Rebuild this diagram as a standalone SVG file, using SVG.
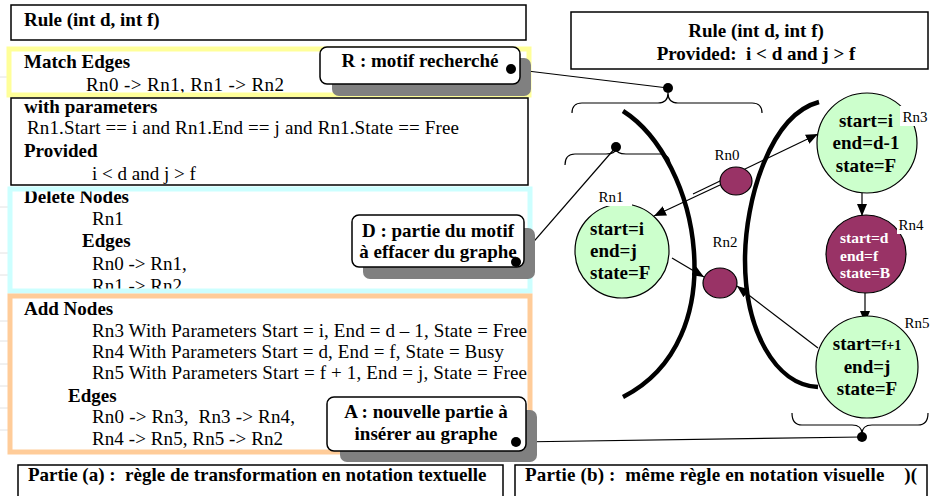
<svg xmlns="http://www.w3.org/2000/svg" width="933" height="496" viewBox="0 0 933 496">
<style>
text{font-family:"Liberation Serif","Times New Roman",serif;fill:#000;white-space:pre}
.r{font-size:19px}
.b{font-size:19px;font-weight:bold}
.lbl{font-size:15px}
.box{fill:#fff;stroke:#000;stroke-width:1.5}
.frame{fill:none;stroke-width:5}
.sh{fill:#808080}
.call{fill:#fff;stroke:#000;stroke-width:1.5}
.dot{fill:#000}
.thin{fill:none;stroke:#000;stroke-width:1.2}
.thick{fill:none;stroke:#000;stroke-width:4.5;stroke-linecap:butt}
.green{fill:#ccffcc;stroke:#000;stroke-width:1.2}
.purple{fill:#993366;stroke:#000;stroke-width:1.2}
.wt{fill:#fff;font-size:15.5px;font-weight:bold}
.grid{stroke:#e2e2e2;stroke-width:1}
</style>
<defs>
<marker id="ah" viewBox="0 0 12 10" refX="12" refY="5" markerWidth="12" markerHeight="10" markerUnits="userSpaceOnUse" orient="auto">
<path d="M0,0 L12,5 L0,10 Z" fill="#000"/>
</marker>
</defs>
<rect width="933" height="496" fill="#fff"/>

<g id="grid">
<line class="grid" x1="0" y1="77" x2="20" y2="77"/>
<line class="grid" x1="0" y1="207" x2="20" y2="207"/>
<line class="grid" x1="0" y1="253" x2="20" y2="253"/>
<line class="grid" x1="0" y1="275" x2="20" y2="275"/>
<line class="grid" x1="0" y1="321" x2="20" y2="321"/>
<line class="grid" x1="0" y1="341" x2="20" y2="341"/>
<line class="grid" x1="0" y1="364" x2="20" y2="364"/>
<line class="grid" x1="0" y1="386" x2="20" y2="386"/>
<line class="grid" x1="0" y1="408" x2="20" y2="408"/>
<line class="grid" x1="0" y1="430" x2="20" y2="430"/>
</g>

<g id="rule-text">
<rect class="box" x="11" y="5" width="515" height="35"/>
<text class="b" x="24" y="26">Rule (int d, int f)</text>
</g>

<g id="match-edges">
<rect x="9" y="49" width="520" height="46" fill="#fff"/>
<text class="b" x="24" y="68">Match Edges</text>
<text class="r" x="86" y="91" textLength="198">Rn0 -&gt; Rn1, Rn1 -&gt; Rn2</text>
<rect class="frame" x="9" y="49" width="520" height="46" stroke="#ffff99"/>
</g>

<g id="with-parameters">
<rect class="box" x="11" y="98" width="517" height="87"/>
<text class="b" x="24" y="113">with parameters</text>
<text class="r" x="27" y="134" textLength="432">Rn1.Start == i and Rn1.End == j and Rn1.State == Free</text>
<text class="b" x="24" y="157">Provided</text>
<text class="r" x="92" y="180">i &lt; d and j &gt; f</text>
</g>

<g id="delete-nodes">
<rect x="10" y="189" width="520" height="102" fill="#fff"/>
<text class="b" x="24" y="203">Delete Nodes</text>
<text class="r" x="92" y="225">Rn1</text>
<text class="b" x="82" y="247">Edges</text>
<text class="r" x="92" y="270">Rn0 -&gt; Rn1,</text>
<text class="r" x="92" y="292">Rn1 -&gt; Rn2</text>
<rect class="frame" x="10" y="189" width="520" height="102" stroke="#ccffff"/>
</g>

<g id="add-nodes">
<rect x="10" y="296" width="520" height="156" fill="#fff"/>
<text class="b" x="24" y="315">Add Nodes</text>
<text class="r" x="92" y="337" textLength="435">Rn3 With Parameters Start = i, End = d – 1, State = Free</text>
<text class="r" x="92" y="358" textLength="412">Rn4 With Parameters Start = d, End = f, State = Busy</text>
<text class="r" x="92" y="379" textLength="435">Rn5 With Parameters Start = f + 1, End = j, State = Free</text>
<text class="b" x="68" y="402">Edges</text>
<text class="r" x="92" y="423" textLength="203">Rn0 -&gt; Rn3,  Rn3 -&gt; Rn4,</text>
<text class="r" x="92" y="445" textLength="191">Rn4 -&gt; Rn5, Rn5 -&gt; Rn2</text>
<rect class="frame" x="10" y="296" width="520" height="156" stroke="#ffcc99"/>
</g>

<g id="caption-a">
<rect class="box" x="18" y="465" width="485" height="40"/>
<text class="b" x="28" y="481">Partie (a) :  règle de transformation en notation textuelle</text>
</g>

<g id="caption-b">
<rect class="box" x="515" y="465" width="412" height="40"/>
<text class="b" x="525" y="481" textLength="392">Partie (b) :  même règle en notation visuelle    )(</text>
</g>

<g id="rule-visual">
<rect class="box" x="571" y="12" width="357" height="57"/>
<text class="b" x="756" y="37" text-anchor="middle">Rule (int d, int f)</text>
<text class="b" x="756" y="60" text-anchor="middle">Provided:  i &lt; d and j &gt; f</text>
</g>

<g id="connectors">
<line class="thin" x1="511" y1="69" x2="668" y2="88"/>
<line class="thin" x1="516" y1="262" x2="616" y2="147"/>
<line class="thin" x1="516" y1="442" x2="862" y2="437"/>
<path class="thin" d="M572,113 Q572,103 582,103 L658,103 Q668,103 668,93 Q668,103 678,103 L752,103 Q762,103 762,113"/>
<path class="thin" d="M565,165 Q565,154 575,154 L606,154 Q616,154 616,148 Q616,154 626,154 L660,154 Q670,154 670,165"/>
<path class="thin" d="M792,413 Q792,425 802,425 L852,425 Q862,425 862,434 Q862,425 872,425 L918,425 Q928,425 928,413"/>
<path class="thick" d="M623,111 C700,160 735,340 623,397"/>
<path class="thick" d="M819,102 C770,115 745,200 745,260 C745,330 775,385 818,387"/>
<line class="thin" x1="693" y1="194" x2="818" y2="134" marker-end="url(#ah)"/>
<line class="thin" x1="720" y1="185" x2="654" y2="216" marker-end="url(#ah)"/>
<line class="thin" x1="672" y1="258" x2="704" y2="277" marker-end="url(#ah)"/>
<line class="thin" x1="818" y1="348" x2="737" y2="286" marker-end="url(#ah)"/>
<line class="thin" x1="862" y1="183" x2="862" y2="216" marker-end="url(#ah)"/>
<line class="thin" x1="865" y1="293" x2="865" y2="323" marker-end="url(#ah)"/>
</g>

<g id="callout-R">
<rect class="sh" x="332" y="58" width="199" height="38" rx="7"/>
<rect class="call" x="320" y="47" width="200" height="37" rx="7"/>
<text class="b" x="420" y="67" text-anchor="middle">R : motif recherché</text>
<circle class="dot" cx="511" cy="69" r="5"/>
</g>

<g id="callout-D">
<rect class="sh" x="363" y="228" width="172" height="51" rx="7"/>
<rect class="call" x="352" y="215" width="172" height="52" rx="7"/>
<text class="b" x="438" y="237" text-anchor="middle">D : partie du motif</text>
<text class="b" x="438" y="258" text-anchor="middle">à effacer du graphe</text>
<circle class="dot" cx="516" cy="262" r="5"/>
</g>

<g id="callout-A">
<rect class="sh" x="340" y="410" width="197" height="52" rx="7"/>
<rect class="call" x="327" y="397" width="199" height="54" rx="7"/>
<text class="b" x="426" y="418" text-anchor="middle">A : nouvelle partie à</text>
<text class="b" x="426" y="440" text-anchor="middle">insérer au graphe</text>
<circle class="dot" cx="516" cy="442" r="5"/>
</g>

<g id="brace-dots">
<circle class="dot" cx="668" cy="88" r="5"/>
<circle class="dot" cx="616" cy="147" r="5"/>
<circle class="dot" cx="862" cy="437" r="5"/>
</g>

<g id="Rn0">
<ellipse class="purple" cx="736" cy="181" rx="16" ry="14"/>
<text class="lbl" x="727" y="160" text-anchor="middle">Rn0</text>
</g>

<g id="Rn2">
<ellipse class="purple" cx="720" cy="283" rx="17" ry="15"/>
<text class="lbl" x="725" y="247" text-anchor="middle">Rn2</text>
</g>

<g id="Rn1">
<circle class="green" cx="622" cy="251" r="47"/>
<rect x="594" y="186" width="38" height="20" fill="#fff"/>
<text class="lbl" x="611" y="202" text-anchor="middle">Rn1</text>
<text class="b" x="590" y="235">start=i</text>
<text class="b" x="590" y="257">end=j</text>
<text class="b" x="590" y="279">state=F</text>
</g>

<g id="Rn3">
<circle class="green" cx="867" cy="143" r="50"/>
<rect x="900" y="106" width="28" height="20" fill="#fff"/>
<text class="lbl" x="915" y="122" text-anchor="middle">Rn3</text>
<text class="b" x="866" y="127" text-anchor="middle">start=i</text>
<text class="b" x="866" y="149" text-anchor="middle">end=d-1</text>
<text class="b" x="866" y="172" text-anchor="middle">state=F</text>
</g>

<g id="Rn4">
<ellipse class="purple" cx="866" cy="254" rx="40" ry="39"/>
<rect x="897" y="214" width="28" height="20" fill="#fff"/>
<text class="lbl" x="911" y="230" text-anchor="middle">Rn4</text>
<text class="wt" x="840" y="243">start=d</text>
<text class="wt" x="840" y="261">end=f</text>
<text class="wt" x="840" y="278">state=B</text>
</g>

<g id="Rn5">
<circle class="green" cx="867" cy="367" r="51"/>
<text class="lbl" x="917" y="328" text-anchor="middle">Rn5</text>
<text class="b" x="867" y="350" text-anchor="middle">start=<tspan font-size="14px">f+1</tspan></text>
<text class="b" x="867" y="373" text-anchor="middle">end=j</text>
<text class="b" x="867" y="395" text-anchor="middle">state=F</text>
</g>
</svg>
